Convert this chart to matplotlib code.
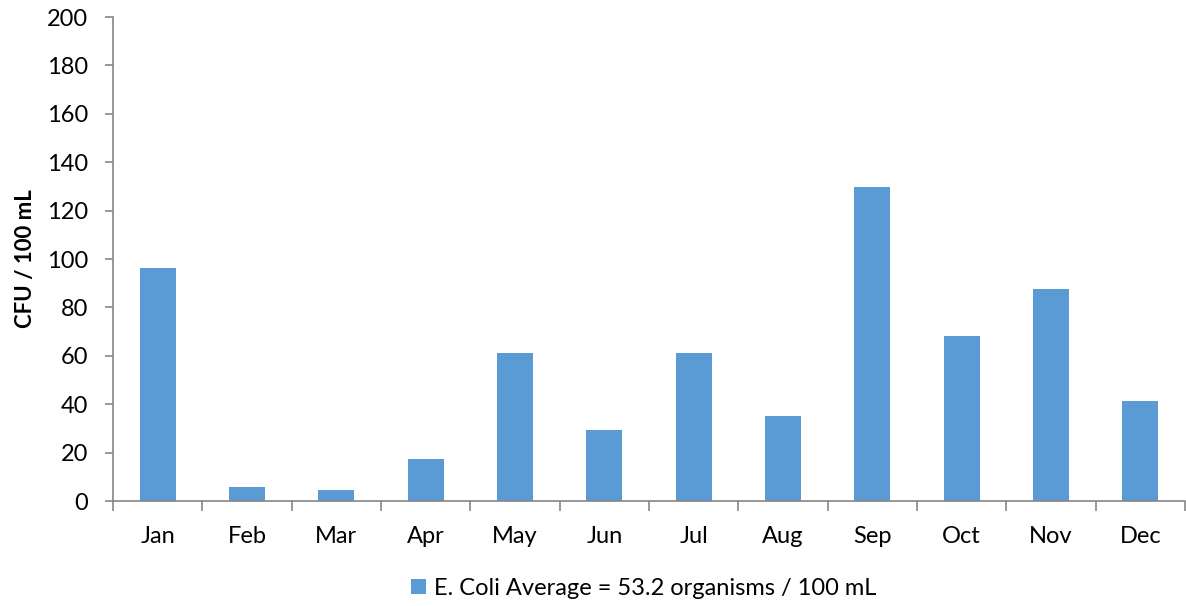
import matplotlib
matplotlib.use('Agg')
import matplotlib.pyplot as plt
import numpy as np

plt.rcParams['font.family'] = ['Lato', 'DejaVu Sans']

# Monthly E. coli averages (CFU / 100 mL)
months = ['Jan', 'Feb', 'Mar', 'Apr', 'May', 'Jun', 'Jul', 'Aug', 'Sep', 'Oct', 'Nov', 'Dec']
ecoli = [96.3, 5.8, 4.6, 17.4, 61.2, 29.4, 61.3, 35.2, 129.7, 68.3, 87.6, 41.4]
series_label = 'E. Coli Average = 53.2 organisms / 100 mL'
yticks = [0, 20, 40, 60, 80, 100, 120, 140, 160, 180, 200]

bar_color = '#5B9BD5'
axis_color = '#868686'

fig = plt.figure(figsize=(11.86, 6.06), dpi=100)
ax = fig.add_axes([113/1186, 105/606, 1072/1186, 484/606])

x = np.arange(len(months))
ax.bar(x, ecoli, width=0.4, color=bar_color, label=series_label)

ax.set_xlim(-0.5, len(months) - 0.5)
ax.set_ylim(0, 200)
ax.set_yticks(yticks)
ax.set_xticks(x)
ax.set_xticklabels(months)
ax.set_xticks(np.arange(len(months) + 1) - 0.5, minor=True)

for s in ['top', 'right']:
    ax.spines[s].set_visible(False)
for s in ['left', 'bottom']:
    ax.spines[s].set_color(axis_color)
    ax.spines[s].set_linewidth(1.2)

ax.tick_params(axis='y', direction='out', length=6, width=1.2, color=axis_color,
               labelsize=17, pad=12)
ax.tick_params(axis='x', which='major', length=0, labelsize=17, pad=18)
ax.tick_params(axis='x', which='minor', direction='out', length=7, width=1.2, color=axis_color)

ax.set_ylabel('CFU / 100 mL', fontsize=16, fontweight='bold', labelpad=8)

ax.legend(loc='upper center', bbox_to_anchor=(0.495, -0.115), frameon=False, fontsize=17,
          handlelength=0.65, handleheight=0.65, handletextpad=0.35)

plt.savefig('out.png', dpi=100)
